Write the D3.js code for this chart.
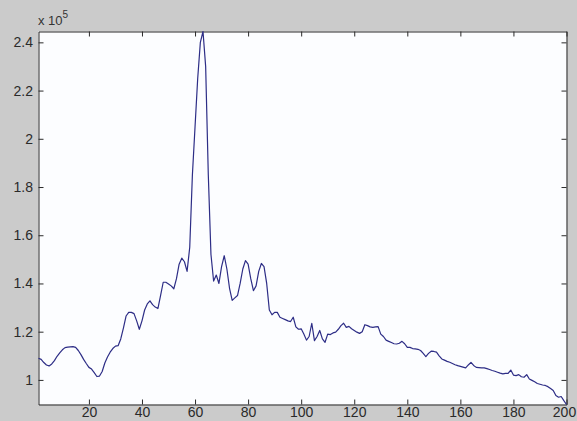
<!DOCTYPE html>
<html><head><meta charset="utf-8">
<script src="https://cdn.jsdelivr.net/npm/d3@7"></script>
<style>html,body{margin:0;padding:0;background:#cbcbcb;}svg{display:block;}</style>
</head><body>
<svg id="c" width="577" height="421"></svg>
<script>
// values in units of 1e5, sample index 1..200
const values = [
1.090,1.085,1.072,1.062,1.058,1.066,1.080,1.098,1.112,1.125,
1.134,1.136,1.137,1.138,1.135,1.122,1.105,1.085,1.068,1.052,
1.045,1.030,1.014,1.016,1.035,1.070,1.095,1.115,1.130,1.140,
1.142,1.170,1.215,1.265,1.280,1.280,1.275,1.245,1.210,1.245,
1.290,1.315,1.328,1.312,1.302,1.296,1.350,1.405,1.405,1.398,
1.390,1.378,1.420,1.480,1.505,1.490,1.450,1.550,1.850,2.050,
2.250,2.400,2.445,2.300,1.850,1.520,1.410,1.435,1.400,1.470,
1.515,1.460,1.380,1.330,1.340,1.350,1.400,1.460,1.495,1.480,
1.420,1.370,1.390,1.450,1.483,1.470,1.400,1.290,1.270,1.280,
1.280,1.260,1.255,1.250,1.245,1.242,1.260,1.220,1.210,1.212,
1.190,1.165,1.180,1.235,1.163,1.180,1.205,1.170,1.156,1.190,
1.188,1.195,1.198,1.210,1.225,1.235,1.218,1.222,1.212,1.205,
1.198,1.193,1.200,1.229,1.225,1.220,1.218,1.220,1.221,1.190,
1.180,1.165,1.160,1.155,1.150,1.149,1.152,1.160,1.150,1.135,
1.135,1.130,1.129,1.127,1.122,1.110,1.097,1.110,1.119,1.118,
1.115,1.100,1.087,1.082,1.077,1.073,1.068,1.063,1.059,1.056,
1.053,1.050,1.062,1.073,1.060,1.052,1.051,1.050,1.050,1.047,
1.043,1.039,1.036,1.032,1.028,1.025,1.027,1.027,1.041,1.020,
1.018,1.022,1.013,1.011,1.022,1.004,0.998,0.992,0.985,0.982,
0.979,0.977,0.972,0.964,0.956,0.935,0.928,0.931,0.914,0.898
];
const xTicks = [20,40,60,80,100,120,140,160,180,200];
const yTicks = [1,1.2,1.4,1.6,1.8,2,2.2,2.4];
const yTickLabels = ["1","1.2","1.4","1.6","1.8","2","2.2","2.4"];
const exponentLabel = "5";

const svg = d3.select("#c");
const L = 38.5, R = 566.5, T = 31.5, B = 404.5;
const x = d3.scaleLinear().domain([1, values.length]).range([L, R]);
const y = d3.scaleLinear().domain(d3.extent(values)).range([B, T]);

svg.append("rect").attr("width",577).attr("height",421).attr("fill","#cbcbcb");
svg.append("rect").attr("x",L).attr("y",T).attr("width",R-L).attr("height",B-T).attr("fill","#fcfdff");

const font = "'Liberation Sans', Arial, sans-serif";
const tl = 5;
const gB = svg.append("g").attr("transform",`translate(0,${B})`)
  .call(d3.axisBottom(x).tickValues(xTicks).tickSize(-tl).tickPadding(tl+6).tickSizeOuter(0));
const gT = svg.append("g").attr("transform",`translate(0,${T})`)
  .call(d3.axisTop(x).tickValues(xTicks).tickSize(-tl).tickFormat("").tickSizeOuter(0));
const gL = svg.append("g").attr("transform",`translate(${L},0)`)
  .call(d3.axisLeft(y).tickValues(yTicks).tickSize(-tl).tickPadding(tl+6).tickSizeOuter(0)
    .tickFormat((d,i)=>yTickLabels[i]));
const gR = svg.append("g").attr("transform",`translate(${R},0)`)
  .call(d3.axisRight(y).tickValues(yTicks).tickSize(-tl).tickFormat("").tickSizeOuter(0));
[gB,gT,gL,gR].forEach(g=>{
  g.select(".domain").attr("stroke","#2a2a2a");
  g.selectAll(".tick line").attr("stroke","#2a2a2a");
  g.selectAll("text").attr("fill","#2a2a2a").style("font-family",font).style("font-size","14px");
});
// keep bottom labels inside the window (baseline near the bottom edge)
gB.selectAll("text").attr("dy",null).attr("y",12.5)
  .attr("x",d => d === xTicks[xTicks.length-1] ? -2.5 : 0);
gL.selectAll("text").attr("x",-5.5);

const ex = svg.append("text").attr("x",38).attr("y",25).attr("fill","#333")
  .style("font-family",font).style("font-size","13px");
ex.append("tspan").text("x 10");
ex.append("tspan").attr("dy",-7).style("font-size","10px").text(exponentLabel);

const line = d3.line().x((d,i)=>x(i+1)).y(d=>y(d));
svg.append("path").datum(values).attr("d",line).attr("fill","none")
  .attr("stroke","#2d2d86").attr("stroke-width",1.2).attr("stroke-linejoin","round");
</script>
</body></html>
